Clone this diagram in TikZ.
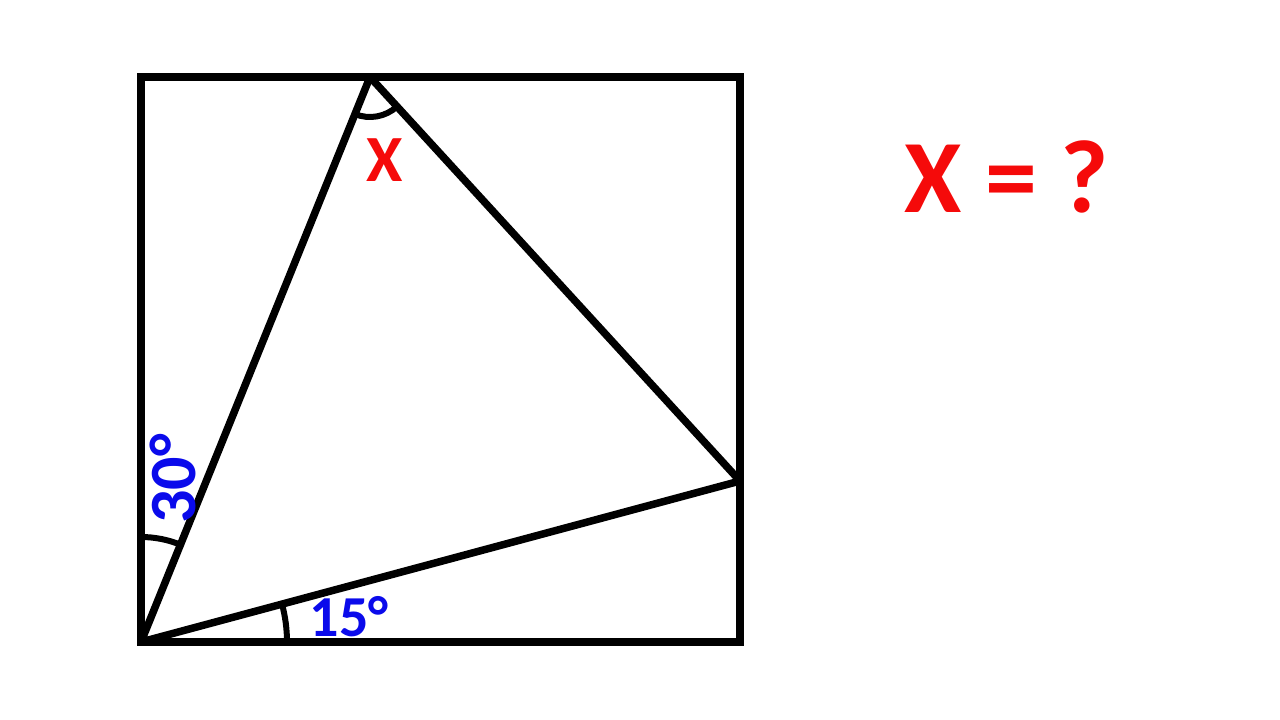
\documentclass[tikz,border=0pt]{standalone}
\usepackage{fontspec}
\setmainfont{Carlito}
\definecolor{lblblue}{RGB}{10,10,235}
\definecolor{lblred}{RGB}{245,10,10}
\tikzset{
  edge/.style={line width=8pt, line join=miter},
  triedge/.style={line width=7.5pt, line join=round},
  anglemark/.style={line width=6pt},
  bluelbl/.style={text=lblblue, font=\bfseries, inner sep=0pt},
  redlbl/.style={text=lblred, font=\bfseries, inner sep=0pt}
}
\begin{document}
\begin{tikzpicture}[x=1pt,y=-1pt]
\useasboundingbox (0,0) rectangle (1280,720);
\coordinate (A) at (141,642);
\coordinate (B) at (740,642);
\coordinate (C) at (740,77);
\coordinate (D) at (141,77);
\coordinate (T) at (370,77);
\coordinate (R) at (740,481);
% angle marks (y axis points down, so angles are negated)
\draw[anglemark] ([shift={(-90:105)}]A) arc[start angle=-90, end angle=-68, radius=105];
\draw[anglemark] ([shift={(0:146)}]A) arc[start angle=0, end angle=-15, radius=146];
\draw[anglemark] ([shift={(-248:40)}]T) arc[start angle=-248, end angle=-312.4, radius=40];
% square and triangle
\draw[edge] (A) -- (B) -- (C) -- (D) -- cycle;
\draw[triedge] (A) -- (T) -- (R) -- cycle;
% labels
\node[bluelbl, font=\bfseries\fontsize{58}{58}\selectfont] (l15) at (349,617) {15°};
\node[bluelbl, rotate=90, font=\bfseries\fontsize{66}{66}\selectfont] (l30) at (173,479) {30°};
\node[redlbl, font=\bfseries\fontsize{66}{66}\selectfont] (lx) at (385,160) {X};
\node[redlbl, font=\bfseries\fontsize{104}{104}\selectfont] (q) at (1007,177) {X = ?};
\end{tikzpicture}
\end{document}
